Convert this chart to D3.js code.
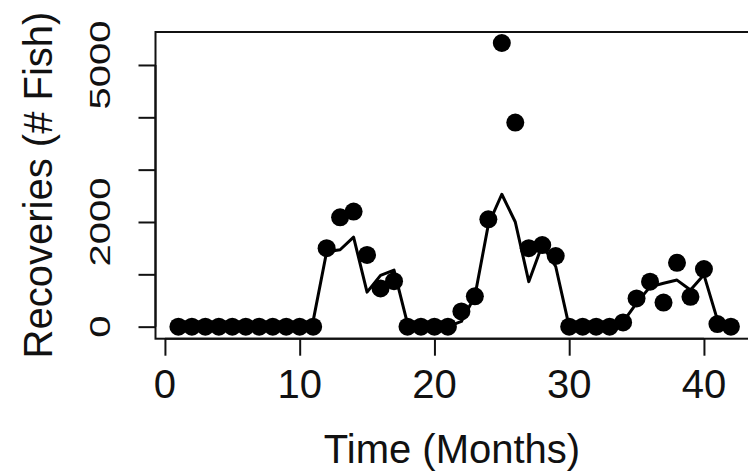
<!DOCTYPE html>
<html><head><meta charset="utf-8">
<script src="https://cdn.jsdelivr.net/npm/d3@7"></script>
<style>html,body{margin:0;padding:0;background:#fff;overflow:hidden}</style>
</head><body><svg id="c" width="748" height="475"></svg>
<script>
const months = [1,2,3,4,5,6,7,8,9,10,11,12,13,14,15,16,17,18,19,20,21,22,23,24,25,26,27,28,29,30,31,32,33,34,35,36,37,38,39,40,41,42];
const observed = [0,0,0,0,0,0,0,0,0,0,0,1500,2090,2200,1370,730,870,0,0,0,0,290,580,2050,5420,3900,1500,1560,1350,0,0,0,0,80,540,860,460,1220,570,1100,50,0];
const fitted = [0,0,0,0,0,0,0,0,0,0,110,1430,1470,1710,660,980,1080,60,0,0,0,100,580,1950,2530,2000,860,1560,1150,0,0,0,0,90,450,760,830,890,700,990,130,20];
const xTicks = [0,10,20,30,40];
const yTicks = [0,1000,2000,3000,4000,5000];
const yTickLabels = ["0","","2000","","","5000"];
const xTitle = "Time (Months)";
const yTitle = "Recoveries (# Fish)";

const svg = d3.select("#c");
const font = "'Liberation Sans', Arial, sans-serif";
const x = d3.scaleLinear().domain([-0.7, 43.7]).range([155.5, 753.8]);
const y = d3.scaleLinear().domain([-230, 5630]).range([338.7, 32]);

// plot box
svg.append("rect")
  .attr("x", x.range()[0]).attr("y", y.range()[1])
  .attr("width", x.range()[1]-x.range()[0]).attr("height", y.range()[0]-y.range()[1])
  .attr("fill","none").attr("stroke","#111").attr("stroke-width",2);

// x axis
const gx = svg.append("g").attr("transform", `translate(0,${y.range()[0]})`)
  .call(d3.axisBottom(x).tickValues(xTicks).tickSize(17).tickSizeOuter(0).tickFormat(""));
gx.select(".domain").attr("d", `M${x(0)},0H${x(40)}`).attr("stroke","#111").attr("stroke-width",2);
gx.selectAll(".tick line").attr("stroke","#111").attr("stroke-width",2);
gx.selectAll(".tick text").remove();
svg.append("g").selectAll("text").data(xTicks).join("text")
  .attr("x", d => x(d)).attr("y", 398)
  .attr("text-anchor","middle").attr("font-family",font).attr("font-size",40).attr("fill","#111")
  .text(d => String(d));

// y axis
const gy = svg.append("g").attr("transform", `translate(${x.range()[0]},0)`)
  .call(d3.axisLeft(y).tickValues(yTicks).tickSize(17).tickSizeOuter(0).tickFormat(""));
gy.select(".domain").attr("d", `M0,${y(0)}V${y(5000)}`).attr("stroke","#111").attr("stroke-width",2);
gy.selectAll(".tick line").attr("stroke","#111").attr("stroke-width",2);
gy.selectAll(".tick text").remove();
svg.append("g").selectAll("text").data(yTicks.map((v,i)=>({v, l:yTickLabels[i]})).filter(d=>d.l)).join("text")
  .attr("transform", d => `translate(110,${y(d.v)}) rotate(-90) scale(1,0.76)`)
  .attr("text-anchor","middle").attr("font-family",font).attr("font-size",40).attr("fill","#111")
  .text(d => d.l);

// titles
svg.append("text").attr("x",452).attr("y",463).attr("text-anchor","middle")
  .attr("font-family",font).attr("font-size",40).attr("fill","#111").text(xTitle);
svg.append("text").attr("transform","translate(52,185) rotate(-90)").attr("text-anchor","middle")
  .attr("font-family",font).attr("font-size",40).attr("fill","#111").text(yTitle);

// fitted line
const line = d3.line().x((d,i)=>x(months[i])).y(d=>y(d));
svg.append("path").datum(fitted).attr("d", line)
  .attr("fill","none").attr("stroke","#000").attr("stroke-width",3).attr("stroke-linejoin","round");

// observed points
svg.append("g").selectAll("circle").data(observed).join("circle")
  .attr("cx",(d,i)=>x(months[i])).attr("cy",d=>y(d)).attr("r",9).attr("fill","#000");
</script></body></html>
